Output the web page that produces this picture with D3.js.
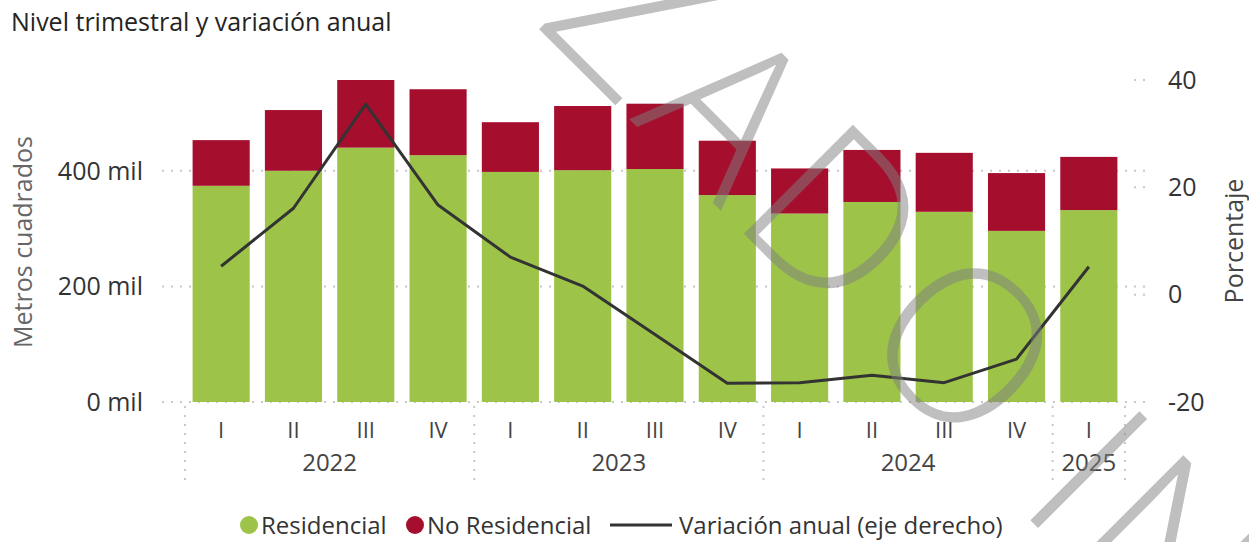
<!doctype html>
<html lang="es">

<head>
  <meta charset="utf-8">
  <script src="https://d3js.org/d3.v7.min.js"></script>
  <title>Nivel trimestral y variación anual</title>
  <style>
    body {
      margin: 0;
      background: #fff;
    }

    text {
      font-family: "Open Sans", "Noto Sans", sans-serif;
    }
  </style>
</head>

<body>
  <svg id="chart" width="1249" height="542"></svg>

  <script>
    // datos (miles de m2 y %)
    var trimestres = ["I", "II", "III", "IV", "I", "II", "III", "IV", "I", "II", "III", "IV", "I"];
    var anios = ["2022", "2022", "2022", "2022", "2023", "2023", "2023", "2023", "2024", "2024", "2024", "2024", "2025"];
    var residencial = [374, 400, 440, 427, 398, 401, 403, 358, 326, 346, 329, 296, 332];
    var noResidencial = [79, 105, 117, 114, 86, 111, 113, 94, 78, 90, 102, 100, 92];
    var variacion = [5.3, 16.1, 35.5, 16.7, 7.0, 1.6, -7.4, -16.5, -16.4, -15.0, -16.4, -12.0, 5.2];
    var ticksIzq = [0, 200, 400];
    var ticksDer = [-20, 0, 20, 40];
    var listaAnios = ["2022", "2023", "2024", "2025"];

    var verde = "#9dc449";
    var rojo = "#a50f2d";
    var gris = "#c8c8c8";

    var svg = d3.select("#chart");

    var data = trimestres.map(function (t, i) {
      return { id: i, q: t, anio: anios[i], res: residencial[i], nores: noResidencial[i], vari: variacion[i] };
    });

    var x = d3.scaleBand()
      .domain(data.map(function (d) { return d.id; }))
      .range([185, 1125])
      .paddingInner(0.21)
      .paddingOuter(0.105);

    var yIzq = d3.scaleLinear().domain([0, 557]).range([402, 80]);
    var yDer = d3.scaleLinear().domain([-20, 40]).range([402, 80]);

    // titulo
    svg.append("text")
      .attr("x", 11)
      .attr("y", 31)
      .style("font-size", "25px")
      .style("fill", "#252423")
      .text("Nivel trimestral y variación anual");

    // lineas de cuadricula punteadas
    svg.append("g").selectAll("line")
      .data(ticksIzq)
      .enter()
      .append("line")
      .attr("x1", 162)
      .attr("x2", 1148)
      .attr("y1", function (d) { return yIzq(d); })
      .attr("y2", function (d) { return yIzq(d); })
      .style("stroke", gris)
      .style("stroke-width", 2)
      .style("stroke-dasharray", "2,7");

    svg.append("g").selectAll("line")
      .data(ticksDer)
      .enter()
      .append("line")
      .attr("x1", 1134)
      .attr("x2", 1152)
      .attr("y1", function (d) { return yDer(d); })
      .attr("y2", function (d) { return yDer(d); })
      .style("stroke", gris)
      .style("stroke-width", 2)
      .style("stroke-dasharray", "2,7");

    // barras apiladas
    var barras = svg.append("g");
    barras.selectAll(".res")
      .data(data)
      .enter()
      .append("rect")
      .attr("class", "res")
      .attr("x", function (d) { return x(d.id); })
      .attr("width", x.bandwidth())
      .attr("y", function (d) { return yIzq(d.res); })
      .attr("height", function (d) { return yIzq(0) - yIzq(d.res); })
      .style("fill", verde);

    barras.selectAll(".nores")
      .data(data)
      .enter()
      .append("rect")
      .attr("class", "nores")
      .attr("x", function (d) { return x(d.id); })
      .attr("width", x.bandwidth())
      .attr("y", function (d) { return yIzq(d.res + d.nores); })
      .attr("height", function (d) { return yIzq(d.res) - yIzq(d.res + d.nores); })
      .style("fill", rojo);

    // linea variacion anual
    var linea = d3.line()
      .x(function (d) { return x(d.id) + x.bandwidth() / 2; })
      .y(function (d) { return yDer(d.vari); });

    svg.append("path")
      .datum(data)
      .attr("d", linea)
      .style("fill", "none")
      .style("stroke", "#333333")
      .style("stroke-width", 3)
      .style("stroke-linejoin", "round");

    // eje izquierdo
    svg.append("g").selectAll("text")
      .data(ticksIzq)
      .enter()
      .append("text")
      .attr("x", 143)
      .attr("y", function (d) { return yIzq(d); })
      .attr("dy", "0.35em")
      .style("text-anchor", "end")
      .style("font-size", "25px")
      .style("fill", "#333")
      .text(function (d) { return d + " mil"; });

    svg.append("text")
      .attr("transform", "translate(32,242) rotate(-90)")
      .style("text-anchor", "middle")
      .style("font-size", "25px")
      .style("fill", "#666")
      .text("Metros cuadrados");

    // eje derecho
    svg.append("g").selectAll("text")
      .data(ticksDer)
      .enter()
      .append("text")
      .attr("x", 1168)
      .attr("y", function (d) { return yDer(d); })
      .attr("dy", "0.35em")
      .style("font-size", "25px")
      .style("fill", "#333")
      .text(function (d) { return d; });

    svg.append("text")
      .attr("transform", "translate(1243,241) rotate(-90)")
      .style("text-anchor", "middle")
      .style("font-size", "25px")
      .style("fill", "#444")
      .text("Porcentaje");

    // eje x: trimestres y anios
    svg.append("g").selectAll("text")
      .data(data)
      .enter()
      .append("text")
      .attr("x", function (d) { return x(d.id) + x.bandwidth() / 2; })
      .attr("y", 438)
      .style("text-anchor", "middle")
      .style("font-size", "22px")
      .style("fill", "#444")
      .text(function (d) { return d.q; });

    var medio = (x.step() - x.bandwidth()) / 2;
    var bordes = listaAnios.map(function (a) {
      var ids = data.filter(function (d) { return d.anio == a; }).map(function (d) { return d.id; });
      return { anio: a, x0: x(d3.min(ids)) - medio, x1: x(d3.max(ids)) + x.bandwidth() + medio };
    });

    svg.append("g").selectAll("text")
      .data(bordes)
      .enter()
      .append("text")
      .attr("x", function (d) { return (d.x0 + d.x1) / 2; })
      .attr("y", 471)
      .style("text-anchor", "middle")
      .style("font-size", "24px")
      .style("fill", "#444")
      .text(function (d) { return d.anio; });

    var separadores = bordes.map(function (d) { return d.x0; }).concat([bordes[bordes.length - 1].x1]);
    svg.append("g").selectAll("line")
      .data(separadores)
      .enter()
      .append("line")
      .attr("x1", function (d) { return d; })
      .attr("x2", function (d) { return d; })
      .attr("y1", 406)
      .attr("y2", 482)
      .style("stroke", gris)
      .style("stroke-width", 2)
      .style("stroke-dasharray", "2,7");

    // leyenda
    var leyenda = svg.append("g");
    leyenda.append("circle").attr("cx", 249).attr("cy", 525).attr("r", 9).style("fill", verde);
    leyenda.append("text").attr("x", 261).attr("y", 534).style("font-size", "24px").style("fill", "#333").text("Residencial");
    leyenda.append("circle").attr("cx", 415).attr("cy", 525).attr("r", 9).style("fill", rojo);
    leyenda.append("text").attr("x", 427).attr("y", 534).style("font-size", "24px").style("fill", "#333").text("No Residencial");
    leyenda.append("line").attr("x1", 610).attr("x2", 672).attr("y1", 525).attr("y2", 525).style("stroke", "#333").style("stroke-width", 3);
    leyenda.append("text").attr("x", 679).attr("y", 534).style("font-size", "24px").style("fill", "#333").text("Variación anual (eje derecho)");

    // marca de agua
    var marca = svg.append("g")
      .attr("transform", "translate(255,-255) rotate(45)")
      .style("opacity", 0.5);
    var letras = [["Z", 456], ["A", 594], ["D", 746], ["O", 926], ["I", 1102], ["N", 1215]];
    letras.forEach(function (l) {
      marca.append("text")
        .attr("x", l[1])
        .attr("y", 0)
        .style("text-anchor", "middle")
        .style("font-size", "216px")
        .style("font-weight", 300)
        .style("fill", "#808080")
        .text(l[0]);
    });
  </script>
</body>

</html>
